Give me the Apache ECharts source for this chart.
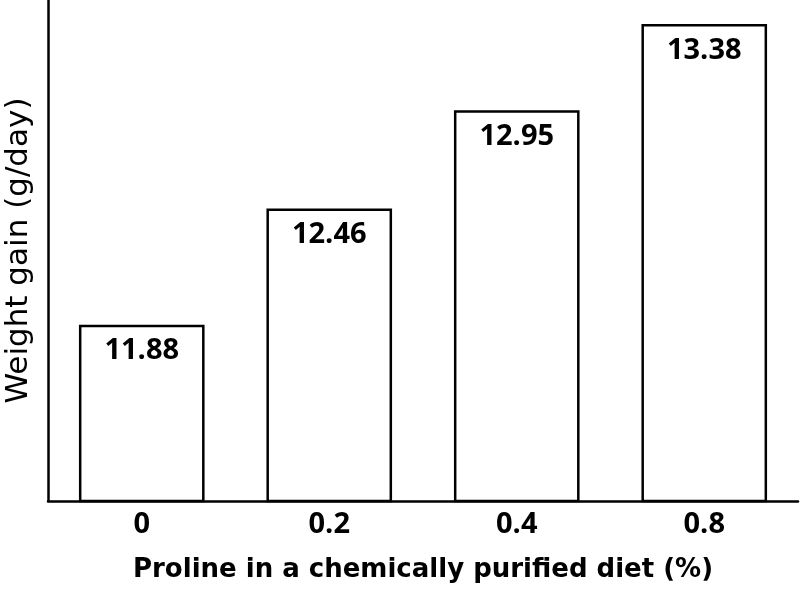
<!DOCTYPE html>
<html>
<head>
<meta charset="utf-8">
<script src="https://cdn.jsdelivr.net/npm/echarts@6/dist/echarts.min.js"></script>
<style>html,body{margin:0;padding:0;background:#fff}#c{width:800px;height:593px}</style>
</head>
<body>
<div id="c"></div>
<script>
var categories = ['0', '0.2', '0.4', '0.8'];
var weightGain = [11.88, 12.46, 12.95, 13.38];
var xTitle = 'Proline in a chemically purified diet (%)';
var yTitle = 'Weight gain (g/day)';

var chart = echarts.init(document.getElementById('c'));
var NUMFONT = 'Open Sans';
var TITLEFONT = 'DejaVu Sans';
chart.setOption({
  animation: false,
  backgroundColor: '#fff',
  grid: {left: 48, right: 2, top: 0, bottom: 92, containLabel: false, outerBoundsMode: 'none'},
  xAxis: {
    type: 'category',
    data: categories,
    axisLine: {lineStyle: {color: '#000', width: 2.5}},
    axisTick: {show: false},
    axisLabel: {color: '#000', fontFamily: NUMFONT, fontWeight: 'bold', fontSize: 29, margin: 9},
    name: xTitle,
    nameLocation: 'middle',
    nameGap: 56,
    nameTextStyle: {color: '#000', fontFamily: TITLEFONT, fontWeight: 'bold', fontSize: 26}
  },
  yAxis: {
    type: 'value',
    min: 11,
    max: 13.5,
    axisLine: {show: true, lineStyle: {color: '#000', width: 2.5}},
    axisTick: {show: false},
    axisLabel: {show: false},
    splitLine: {show: false},
    name: yTitle,
    nameLocation: 'middle',
    nameGap: 14,
    nameTextStyle: {color: '#000', fontFamily: TITLEFONT, fontSize: 31}
  },
  series: [{
    type: 'bar',
    data: weightGain,
    barWidth: '67%',
    itemStyle: {color: '#fff', borderColor: '#000', borderWidth: 2.5},
    label: {
      show: true,
      position: 'insideTop',
      distance: 12,
      color: '#000',
      fontFamily: NUMFONT,
      fontWeight: 'bold',
      fontSize: 29,
      formatter: function (p) { return p.value.toFixed(2); }
    }
  }]
});
</script>
</body>
</html>
